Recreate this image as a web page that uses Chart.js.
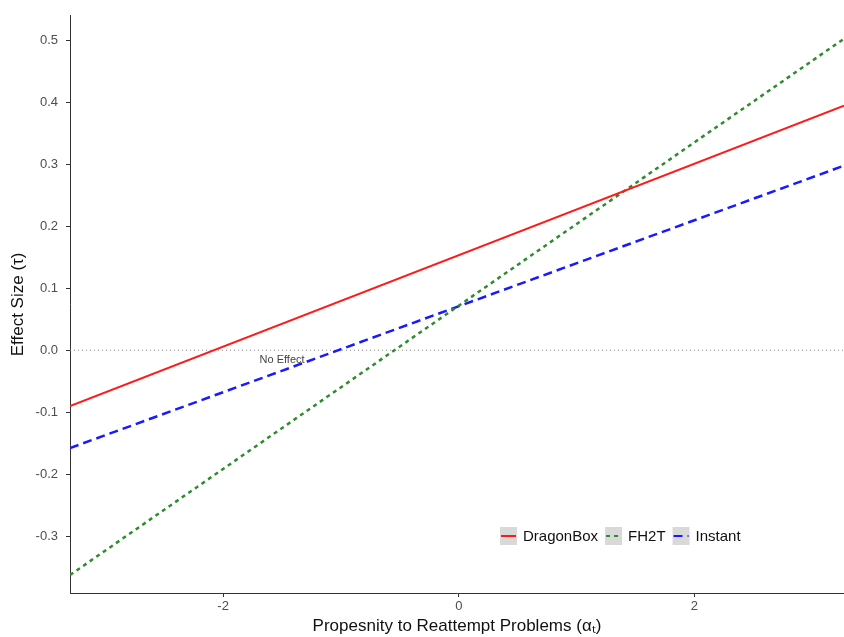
<!DOCTYPE html>
<html>
<head>
<meta charset="utf-8">
<script src="https://cdn.jsdelivr.net/npm/chart.js@4"></script>
<style>
  body { margin: 0; background: #fff; }
  #wrap { width: 844px; height: 637px; }
</style>
</head>
<body>
<div id="wrap"><canvas id="myChart" width="844" height="637"></canvas></div>
<script>
// x values at the two ends of the plotted range
var xEnds = [-3.3, 3.27];
var dragonBox = [-0.09, 0.395];
var fh2t = [-0.363, 0.503];
var instant = [-0.158, 0.298];
var zeroLine = [0, 0];
var xTicks = [-2, 0, 2];
var yTicks = [-0.3, -0.2, -0.1, 0.0, 0.1, 0.2, 0.3, 0.4, 0.5];
var seriesNames = ['DragonBox', 'FH2T', 'Instant'];

function pts(ys) {
    return xEnds.map(function (x, i) { return { x: x, y: ys[i] }; });
}

// legend drawn inside the plot, bottom right
const legendInside = {
    id: 'legendInside',
    afterDatasetsDraw(chart) {
        var ctx = chart.ctx;
        var x0 = 500, y0 = 536;
        ctx.save();
        ctx.font = '15px "Liberation Sans", Arial, sans-serif';
        ctx.textBaseline = 'middle';
        for (var i = 0; i < 3; i++) {
            var ds = chart.data.datasets[i];
            ctx.fillStyle = '#d9d9d9';
            ctx.fillRect(x0, y0 - 9, 17, 18);
            ctx.strokeStyle = ds.borderColor;
            ctx.lineWidth = 2;
            ctx.setLineDash(ds.borderDash || []);
            ctx.beginPath();
            ctx.moveTo(x0 + 1, y0);
            ctx.lineTo(x0 + 16, y0);
            ctx.stroke();
            ctx.setLineDash([]);
            ctx.fillStyle = '#111';
            ctx.fillText(seriesNames[i], x0 + 23, y0 + 1);
            x0 += 23 + ctx.measureText(seriesNames[i]).width + 7;
        }
        // "No Effect" label
        var xs = chart.scales.x, ys = chart.scales.y;
        ctx.font = '11px "Liberation Sans", Arial, sans-serif';
        ctx.fillStyle = '#444';
        ctx.textAlign = 'center';
        ctx.fillText('No Effect', xs.getPixelForValue(-1.5), ys.getPixelForValue(-0.015));
        ctx.restore();
    }
};

const data = {
    datasets: [{
        label: 'DragonBox',
        data: pts(dragonBox),
        borderColor: '#ff1a1a',
        borderWidth: 2,
        pointRadius: 0
    }, {
        label: 'FH2T',
        data: pts(fh2t),
        borderColor: '#2e8b2e',
        borderWidth: 2.5,
        borderDash: [4, 4],
        pointRadius: 0
    }, {
        label: 'Instant',
        data: pts(instant),
        borderColor: '#1a1aff',
        borderWidth: 2.5,
        borderDash: [9, 5],
        pointRadius: 0
    }, {
        label: 'zero',
        data: pts(zeroLine),
        borderColor: '#888',
        borderWidth: 1,
        borderDash: [1, 3],
        pointRadius: 0
    }]
};

const config = {
    type: 'line',
    data,
    options: {
        animation: false,
        responsive: false,
        layout: { padding: { top: 6, right: 0, left: 0, bottom: 0 } },
        plugins: {
            legend: { display: false },
            tooltip: { enabled: false }
        },
        scales: {
            x: {
                type: 'linear',
                min: xEnds[0],
                max: xEnds[1],
                afterBuildTicks: function (scale) {
                    scale.ticks = xTicks.map(function (v) { return { value: v }; });
                },
                afterFit: function (scale) { scale.height = 44; },
                grid: { drawOnChartArea: false, drawTicks: true, tickLength: 4, color: '#333' },
                border: { color: '#333', width: 1 },
                ticks: {
                    color: '#4d4d4d',
                    padding: 2,
                    font: { family: '"Liberation Sans", Arial, sans-serif', size: 13 }
                },
                title: {
                    display: true,
                    text: 'Propesnity to Reattempt Problems (αₜ)',
                    color: '#111',
                    padding: { top: 0, bottom: 0 },
                    font: { family: '"Liberation Sans", Arial, sans-serif', size: 17 }
                }
            },
            y: {
                min: -0.392,
                max: 0.540,
                afterBuildTicks: function (scale) {
                    scale.ticks = yTicks.map(function (v) { return { value: v }; });
                },
                afterFit: function (scale) { scale.width = 70; },
                grid: { drawOnChartArea: false, drawTicks: true, tickLength: 4, color: '#333' },
                border: { color: '#333', width: 1 },
                ticks: {
                    color: '#4d4d4d',
                    padding: 8,
                    callback: function (v) { return v.toFixed(1); },
                    font: { family: '"Liberation Sans", Arial, sans-serif', size: 13 }
                },
                title: {
                    display: true,
                    text: 'Effect Size (τ)',
                    color: '#111',
                    padding: { top: 8, bottom: 0 },
                    font: { family: '"Liberation Sans", Arial, sans-serif', size: 17 }
                }
            }
        }
    },
    plugins: [legendInside]
};

const myChart = new Chart(
    document.getElementById('myChart'),
    config
);
</script>
</body>
</html>
